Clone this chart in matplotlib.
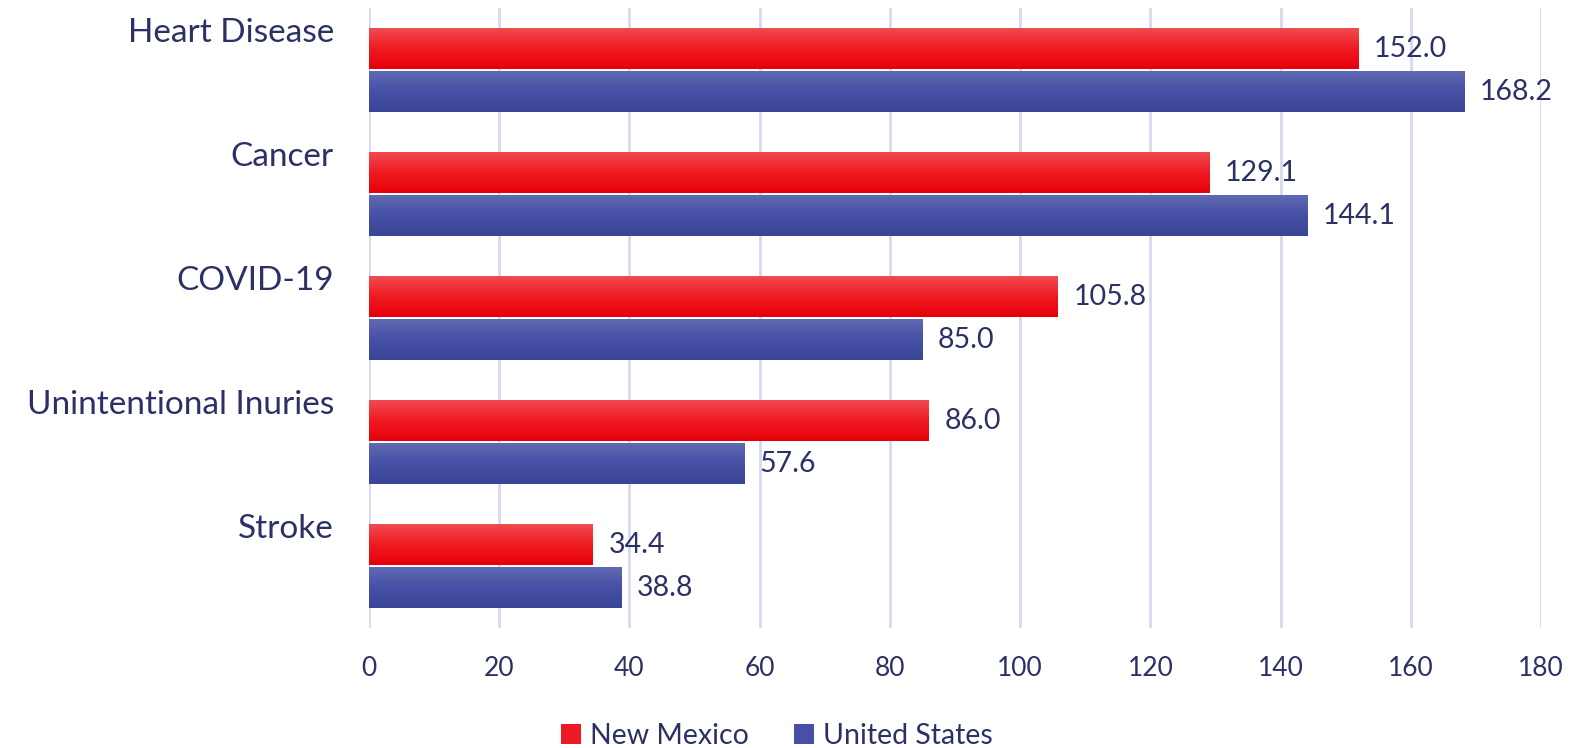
import numpy as np
import matplotlib.pyplot as plt
from matplotlib.patches import Patch
from matplotlib.colors import LinearSegmentedColormap

categories = ['Heart Disease', 'Cancer', 'COVID-19', 'Unintentional Inuries', 'Stroke']
new_mexico = [152.0, 129.1, 105.8, 86.0, 34.4]
united_states = [168.2, 144.1, 85.0, 57.6, 38.8]
xticks = [0, 20, 40, 60, 80, 100, 120, 140, 160, 180]

navy = '#2b3164'
red_cmap = LinearSegmentedColormap.from_list('r', ['#ef4b50', '#f01a22', '#e60008'])
blue_cmap = LinearSegmentedColormap.from_list('b', ['#6069b1', '#4650a6', '#3a4596'])

plt.rcParams['font.family'] = ['Lato', 'DejaVu Sans']

fig = plt.figure(figsize=(15.79, 7.48), dpi=100)
ax = fig.add_axes([0.2337, 0.16, 0.7423, 0.829])

y = np.arange(len(categories))
h = 0.33
grad = np.linspace(0, 1, 64).reshape(-1, 1)


def gradient_bars(bars, cmap):
    for b in bars:
        x0, y0, w, hh = b.get_x(), b.get_y(), b.get_width(), b.get_height()
        # y axis is inverted, so the top of the bar is y0
        ax.imshow(grad, cmap=cmap, aspect='auto', extent=(x0, x0 + w, y0 + hh, y0),
                  origin='upper', zorder=3, interpolation='bilinear')


b1 = ax.barh(y - h / 2 - 0.01, new_mexico, height=h, color='none', zorder=3)
b2 = ax.barh(y + h / 2 + 0.01, united_states, height=h, color='none', zorder=3)
gradient_bars(b1, red_cmap)
gradient_bars(b2, blue_cmap)

for bars, vals in ((b1, new_mexico), (b2, united_states)):
    for b, v in zip(bars, vals):
        ax.annotate(f'{v:.1f}', (v, b.get_y() + b.get_height() / 2), xytext=(11, 0),
                    textcoords='offset points', va='center', ha='left',
                    fontsize=20.5, color=navy)

ax.set_xlim(0, 180)
ax.set_ylim(len(categories) - 0.5, -0.5)
ax.set_xticks(xticks)
ax.set_xticklabels([str(t) for t in xticks], fontsize=19, color=navy)
ax.tick_params(axis='x', length=0, pad=20)
ax.set_yticks([])
for yi, c in zip(y, categories):
    ax.text(-0.03, yi - 0.3, c, transform=ax.get_yaxis_transform(), ha='right', va='center',
            fontsize=24, color=navy)

ax.grid(axis='x', color='#d8d8ee', linewidth=2, zorder=0)
for s in ax.spines.values():
    s.set_visible(False)

handles = [Patch(facecolor='#ec1a22', label='New Mexico'),
           Patch(facecolor='#4650a6', label='United States')]
leg = fig.legend(handles=handles, loc='lower center', bbox_to_anchor=(0.492, -0.035), ncol=2,
                 frameon=False, fontsize=20.5, handlelength=0.7, handleheight=0.7,
                 handletextpad=0.3, columnspacing=1.6)
for t in leg.get_texts():
    t.set_color(navy)

fig.savefig('out.png', dpi=100)
